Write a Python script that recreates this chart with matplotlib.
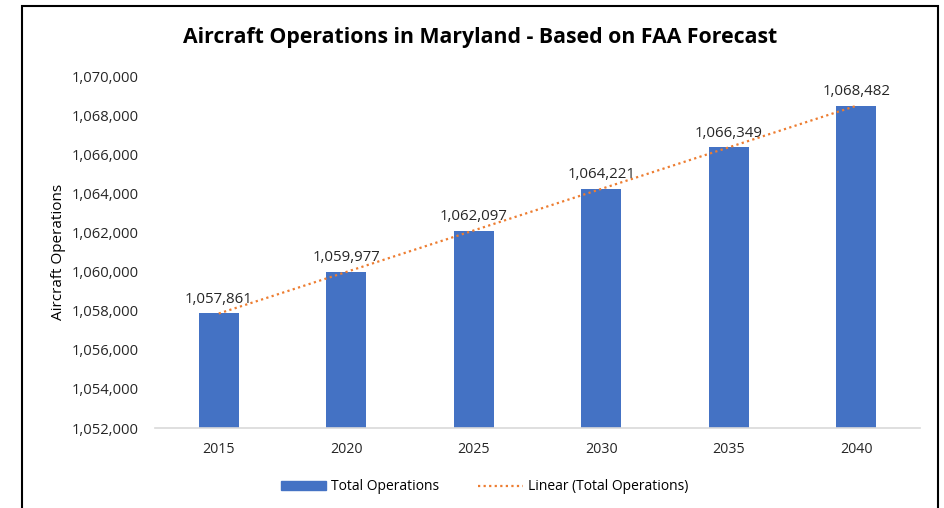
import numpy as np
import matplotlib.pyplot as plt
from matplotlib.patches import Rectangle
from matplotlib.lines import Line2D

years = ["2015", "2020", "2025", "2030", "2035", "2040"]
ops = [1057861, 1059977, 1062097, 1064221, 1066349, 1068482]
yticks = list(range(1052000, 1070001, 2000))

plt.rcParams['font.family'] = ['Open Sans', 'DejaVu Sans']

fig = plt.figure(figsize=(9.45, 5.08), dpi=100)
W, H = 945, 508
ax = fig.add_axes([155 / W, 1 - 428 / H, 765 / W, (428 - 76) / H])

x = np.arange(len(years))
bars = ax.bar(x, ops, width=0.31, color='#4472C4', zorder=2)

# linear trendline like excel
m, b = np.polyfit(x, ops, 1)
ax.plot(x, m * x + b, linestyle=(0, (1, 1.5)), color='#ED7D31', lw=1.6, zorder=3)

for xi, v in zip(x, ops):
    ax.text(xi, v + 350, f"{v:,}", ha='center', va='bottom', fontsize=10.8, color='#262626')

ax.set_xlim(-0.5, len(years) - 0.5)
ax.set_ylim(1052000, 1070000)
ax.set_xticks(x)
ax.set_xticklabels(years, fontsize=10.3, color='#262626')
ax.set_yticks(yticks)
ax.set_yticklabels([f"{t:,}" for t in yticks], fontsize=10.6, color='#262626')
ax.tick_params(length=0, pad=10)
ax.tick_params(axis='y', pad=12)
for s in ['top', 'right', 'left']:
    ax.spines[s].set_visible(False)
ax.spines['bottom'].set_color('#D9D9D9')
ax.spines['bottom'].set_linewidth(1.2)
ax.set_ylabel("Aircraft Operations", fontsize=11, color='black', labelpad=4)

fig.text(480 / W, 1 - 37 / H, "Aircraft Operations in Maryland - Based on FAA Forecast",
         ha='center', va='center', fontsize=15.3, fontweight='bold')

# outer frame
fig.patches.append(Rectangle((22 / W, -0.05), (938 - 22) / W, 1 - 6 / H + 0.05,
                             transform=fig.transFigure, fill=False, edgecolor='black', lw=1.5))

handles = [Rectangle((0, 0), 1, 1, color='#4472C4'),
           Line2D([], [], linestyle=(0, (1, 1.5)), color='#ED7D31', lw=1.6)]
fig.legend(handles, ["Total Operations", "Linear (Total Operations)"], loc='center',
           bbox_to_anchor=(485 / W, 1 - 487 / H), ncol=2, frameon=False, fontsize=10,
           handlelength=3.2, handleheight=0.6, handletextpad=0.4, columnspacing=2.8)

fig.savefig("out.png", dpi=100)
